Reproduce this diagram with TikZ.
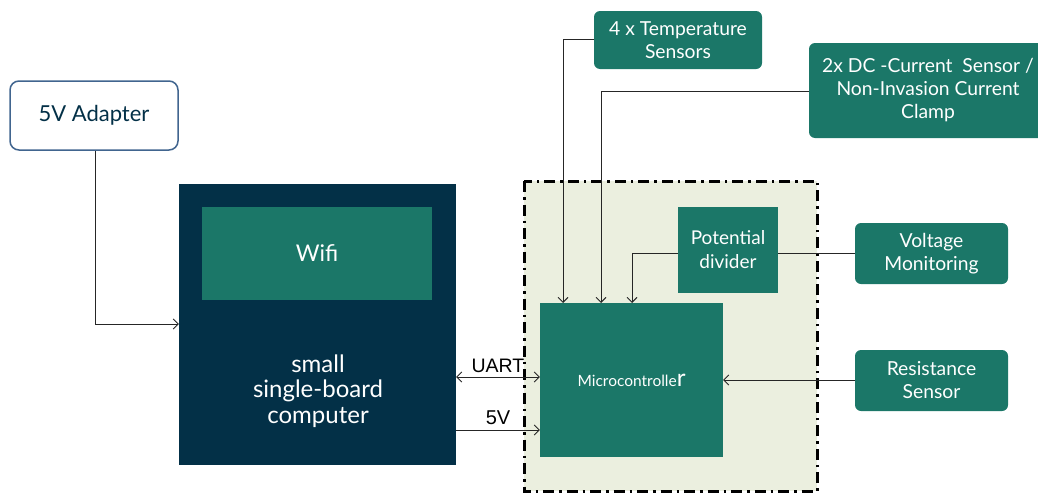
\documentclass[tikz,border=0pt]{standalone}
\usepackage{fontspec}
\setmainfont{Lato}
\newfontfamily\arialfont{Liberation Sans}
\usetikzlibrary{arrows.meta}
\definecolor{teal1}{HTML}{1B7768}
\definecolor{navy1}{HTML}{033047}
\definecolor{pale1}{HTML}{EBEFDF}
\definecolor{edge1}{HTML}{41658F}
\tikzset{
  tealbox/.style={fill=teal1, text=white, align=center, inner sep=0pt},
  roundteal/.style={tealbox, rounded corners=6pt},
  sensorfont/.style={font=\fontsize{19.3}{23}\selectfont},
  conn/.style={draw=black!85, line width=0.9pt},
  arr/.style={conn, -{Straight Barb[length=5pt,width=10pt,line width=0.9pt]}},
  darr/.style={conn, {Straight Barb[length=5pt,width=10pt,line width=0.9pt]}-{Straight Barb[length=5pt,width=10pt,line width=0.9pt]}},
}
\begin{document}
\begin{tikzpicture}[x=1pt,y=-1pt]
\useasboundingbox (0,0) rectangle (1038,493);
% dashed region
\draw[fill=pale1, line width=3pt, dash pattern=on 11pt off 5pt on 2.5pt off 5pt] (524,181) rectangle (817,491);
% adapter
\node[draw=edge1, line width=1.5pt, rounded corners=9pt, fill=white, minimum width=168pt, minimum height=69pt, font=\fontsize{22}{26}\selectfont, text=navy1] (adapter) at (94,115.5) {5V Adapter};
% sbc
\node[fill=navy1, minimum width=277pt, minimum height=281pt, inner sep=0pt] (sbc) at (317.5,324.5) {};
\node[tealbox, minimum width=230pt, minimum height=93pt, font=\fontsize{23}{26}\selectfont] (wifi) at (317,253.5) {Wifi};
\node[text=white, align=center, font=\fontsize{24}{25.5}\selectfont] (sbctext) at (318,391) {small\\single-board\\computer};
% microcontroller
\node[tealbox, minimum width=183pt, minimum height=154pt, font=\fontsize{15.5}{18}\selectfont] (mcu) at (631.5,380) {Microcontrolle{\fontsize{24}{24}\selectfont r}};
\node[tealbox, minimum width=100pt, minimum height=86pt, font=\fontsize{19}{24}\selectfont] (pd) at (728,250) {Potential\\divider};
% sensors
\node[roundteal, sensorfont, minimum width=168pt, minimum height=58pt] (temp) at (678,40) {4 x Temperature\\Sensors};
\node[roundteal, sensorfont, minimum width=238pt, minimum height=95pt] (dc) at (928,90.5) {2x DC -Current~ Sensor /\\Non-Invasion Current\\Clamp};
\node[roundteal, sensorfont, minimum width=153pt, minimum height=61pt] (volt) at (931.5,253.5) {Voltage\\Monitoring};
\node[roundteal, sensorfont, minimum width=153pt, minimum height=61pt] (res) at (931.5,380.5) {Resistance\\Sensor};
% connectors
\coordinate (mcuT1) at (563,303);
\coordinate (mcuT2) at (601,303);
\coordinate (mcuT3) at (632,303);
\draw[arr] (adapter.south -| 95,0) |- (sbc.west |- 0,324);
\draw[arr] (temp.west |- 0,39) -| (mcuT1);
\draw[arr] (dc.west |- 0,91) -| (mcuT2);
\draw[arr] (pd.west |- 0,253) -| (mcuT3);
\draw[conn] (pd.east |- 0,253) -- (volt.west |- 0,253);
\draw[arr] (res.west |- 0,380) -- (mcu.east |- 0,380);
\draw[darr] (sbc.east |- 0,377) -- node[above=1pt, font=\arialfont\fontsize{19.5}{22}\selectfont] (uart) {UART} (mcu.west |- 0,377);
\draw[arr] (sbc.east |- 0,430) -- node[above=2pt, font=\arialfont\fontsize{20}{22}\selectfont] (fivev) {5V} (mcu.west |- 0,430);
\end{tikzpicture}
\end{document}
